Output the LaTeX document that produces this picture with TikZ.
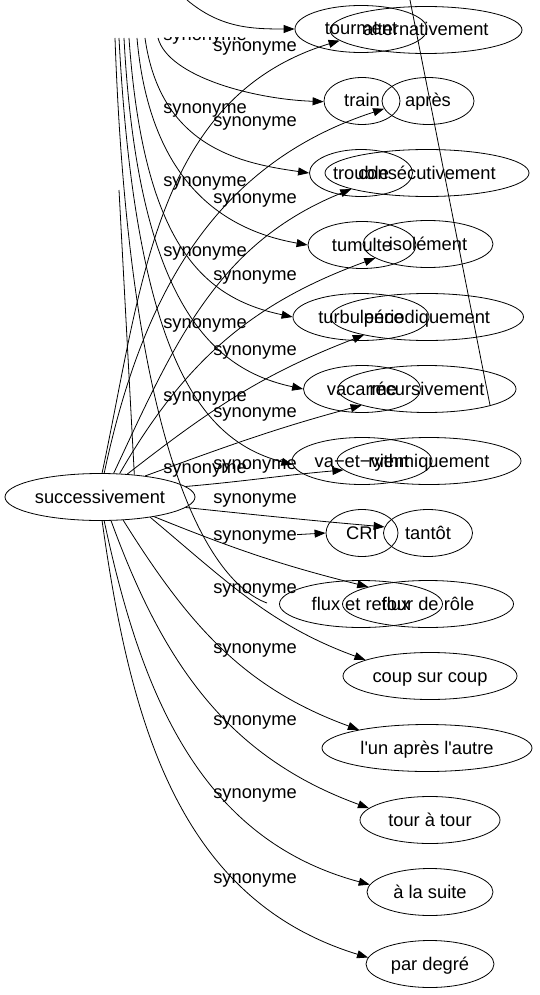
\documentclass[tikz,border=0pt]{standalone}
\usepackage{fontspec}
\setmainfont{Liberation Sans}[Ligatures=TeXOff]
\usetikzlibrary{arrows.meta,shapes.geometric}

\begin{document}
\begin{tikzpicture}[x=1pt,y=-1pt,line width=0.8pt,
    every node/.style={font=\fontsize{18.3}{22}\selectfont},
    word/.style={ellipse, draw, inner sep=0pt, minimum height=47pt,
      text height=15pt, text depth=3pt},
    rel/.style={inner sep=0pt},
    syn/.style={-{Triangle[length=11pt,width=8pt]}}]
\useasboundingbox (0,0) rectangle (540,995);
% main word and its synonyms
\node[word, minimum width=190pt] (succ) at (100,497) {successivement};
\node[word, minimum width=192pt] (alt) at (426,30) {alternativement};
\node[word, minimum width=92pt] (apres) at (428,101) {après};
\node[word, minimum width=204pt] (consec) at (427,173) {consécutivement};
\node[word, minimum width=130pt] (isol) at (428,244) {isolément};
\node[word, minimum width=193pt] (period) at (427,317) {périodiquement};
\node[word, minimum width=178pt] (recurs) at (427,389) {récursivement};
\node[word, minimum width=184pt] (rythm) at (429,461) {rythmiquement};
\node[word, minimum width=89pt] (tantot) at (428,533) {tantôt};
\node[word, minimum width=171pt] (tourrole) at (428,604) {tour de rôle};
\node[word, minimum width=174pt] (coup) at (430,676) {coup sur coup};
\node[word, minimum width=210pt] (lun) at (427,748) {l'un après l'autre};
\node[word, minimum width=140pt] (atour) at (430,820) {tour à tour};
\node[word, minimum width=126pt] (suite) at (430,892) {à la suite};
\node[word, minimum width=128pt] (degre) at (430,964) {par degré};
% the other graph lying over it
\node[word, minimum width=132pt] (tourm) at (361,29) {tourment};
\node[word, minimum width=76pt] (train) at (362,101) {train};
\node[word, minimum width=103pt] (trouble) at (361,173) {trouble};
\node[word, minimum width=108pt] (tumulte) at (362,245) {tumulte};
\node[word, minimum width=136pt] (turbu) at (361,317) {turbulence};
\node[word, minimum width=117pt] (vacarme) at (362,389) {vacarme};
\node[word, minimum width=140pt] (vaet) at (362,461) {va−et−vient};
\node[word, minimum width=72pt] (cri) at (362,533) {CRI};
\node[word, minimum width=163pt] (flux) at (361,604) {flux et reflux};
% labels
\foreach \y [count=\i] in {48,123,200,277,352,414,466,500,537,590,650,722,795,880}
  \node[rel] (la\i) at (255,\y) {synonyme};
\foreach \y [count=\i from 2] in {110,183,253,325,398,470}
  \node[rel] (lb\i) at (205,\y) {synonyme};
\begin{scope}
  \clip (150,38) rectangle (260,60);
  \node[rel] (lb1) at (205,37) {synonyme};
\end{scope}
% edges of successivement
\draw[syn] (succ.85) to[out=78,in=197] (alt.187);
\draw[syn] (succ.80) to[out=78,in=198] (apres.190);
\draw[syn] (succ.60) to[out=65,in=202] (consec.192);
\draw[syn] (succ.50) to[out=60,in=200] (isol.195);
\draw[syn] (succ.40) to[out=38,in=201] (period.196);
\draw[syn] (succ.25) to[out=20,in=195] (recurs.194);
\draw[syn] (succ.7) to[out=5,in=185] (rythm.186);
\draw[syn] (succ.-7) to[out=-6,in=175] (tantot.172);
\draw[syn] (succ.-20) to[out=-22,in=166] (tourrole.164);
\draw[syn] (succ.-22) to[out=-40,in=160] (coup.166);
\draw[syn] (succ.-45) to[out=-58,in=160] (lun.165);
\draw[syn] (succ.-65) to[out=-70,in=160] (atour.169);
\draw[syn] (succ.-80) to[out=-78,in=165] (suite.173);
\draw[syn] (succ.-85) to[out=-82,in=163] (degre.174);
% edges of the other graph
\coordinate (b0) at (187,0);
\coordinate (b1) at (158,38);
\coordinate (b2) at (145,38);
\coordinate (b3) at (137,38);
\coordinate (b4) at (129,38);
\coordinate (b5) at (124,38);
\coordinate (b6) at (119,38);
\coordinate (b7) at (115,38);
\coordinate (b8) at (119,190);
\coordinate (fx) at (267,603);
\coordinate (r0) at (410,0);
\draw[syn] (b0) to[out=-40,in=180] (tourm.180);
\draw[syn] (b1) to[out=-75,in=178,out distance=40pt,in distance=70pt] (train.181);
\draw[syn] (b2) to[out=-82,in=172,out distance=110pt,in distance=70pt] (trouble.180);
\draw[syn] (b3) to[out=-85,in=170,out distance=150pt,in distance=80pt] (tumulte.180);
\draw[syn] (b4) to[out=-86,in=168,out distance=210pt,in distance=90pt] (turbu.180);
\draw[syn] (b5) to[out=-87,in=168,out distance=270pt,in distance=90pt] (vacarme.180);
\draw[syn] (b6) to[out=-87,in=165,out distance=330pt,in distance=90pt] (vaet.183);
\draw (b7) to[out=-88,in=160,out distance=420pt,in distance=60pt] (fx);
\draw (b8) -- (succ.33);
\draw[syn] (la9) -- (cri.180);
\draw (r0) -- (recurs.-15);
\end{tikzpicture}
\end{document}
